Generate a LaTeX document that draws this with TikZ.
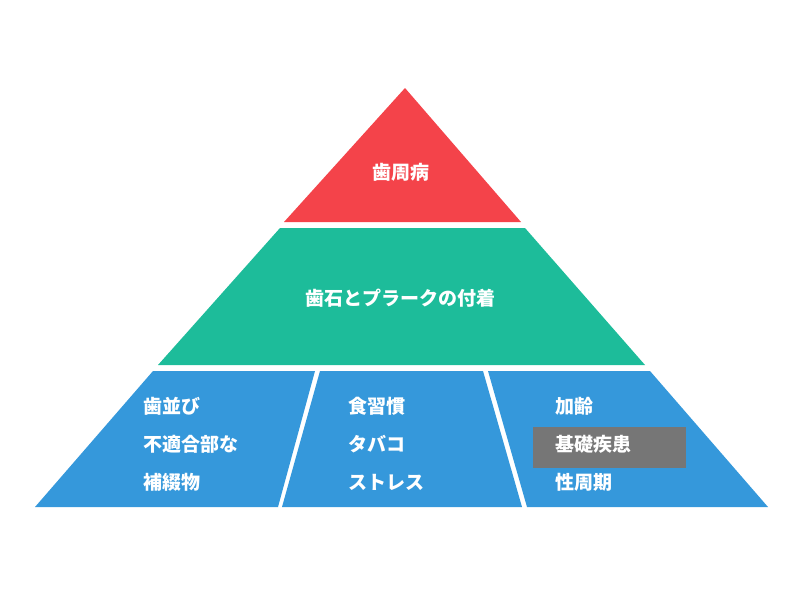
\documentclass[tikz,border=0pt]{standalone}
\usepackage{fontspec}
\newfontfamily\jp{Noto Sans CJK JP}
\definecolor{cred}{HTML}{F4434A}
\definecolor{cteal}{HTML}{1DBC9A}
\definecolor{cblue}{HTML}{3598DB}
\definecolor{cgray}{HTML}{767676}
\begin{document}
\begin{tikzpicture}[x=1pt,y=-1pt,
  lbl/.style={text=white,font=\jp\fontsize{19}{19}\selectfont\bfseries,inner sep=0pt},
  ll/.style={lbl,anchor=west}]
\useasboundingbox (0,0) rectangle (800,600);
\fill[cred] (405,88) -- (521,222) -- (284,222) -- cycle;
\fill[cteal] (280,228) -- (525,228) -- (645,365) -- (158,365) -- cycle;
\fill[cblue] (153,371) -- (315,371) -- (278,507) -- (35,507) -- cycle;
\fill[cblue] (320,371) -- (483,371) -- (522,507) -- (282,507) -- cycle;
\fill[cblue] (488,371) -- (650,371) -- (768,507) -- (527,507) -- cycle;
\fill[cgray] (533,427) rectangle (686,468);
\node[lbl] (top) at (401,172) {歯周病};
\node[lbl] (mid) at (400,298) {歯石とプラークの付着};
\node[ll] (a1) at (143,406) {歯並び};
\node[ll] (a2) at (143,444) {不適合部な};
\node[ll] (a3) at (143,482) {補綴物};
\node[ll] (b1) at (348,406) {食習慣};
\node[ll] (b2) at (348,444) {タバコ};
\node[ll] (b3) at (348,482) {ストレス};
\node[ll] (c1) at (555,406) {加齢};
\node[ll] (c2) at (555,444) {基礎疾患};
\node[ll] (c3) at (555,482) {性周期};
\end{tikzpicture}
\end{document}
